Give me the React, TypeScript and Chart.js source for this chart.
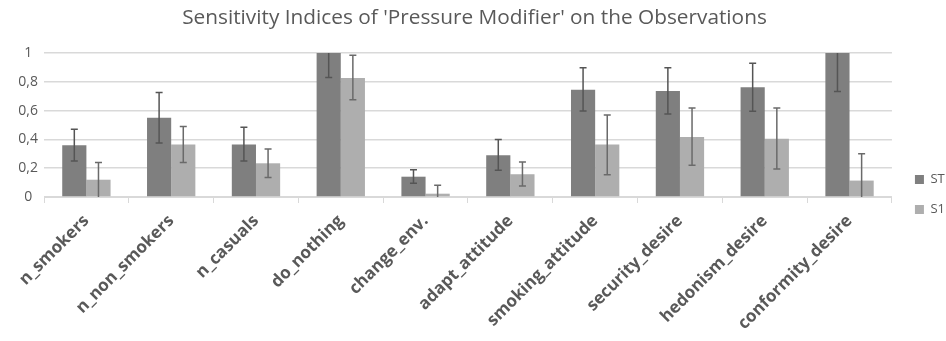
import React, { useEffect, useRef } from 'react';
import { Chart, registerables } from 'chart.js';

Chart.register(...registerables);

const categories = ['n_smokers', 'n_non_smokers', 'n_casuals', 'do_nothing', 'change_env.', 'adapt_attitude', 'smoking_attitude', 'security_desire', 'hedonism_desire', 'conformity_desire'];
const seriesNames = ['ST', 'S1'];
const stValues = [0.36, 0.55, 0.364, 1, 0.141, 0.29, 0.745, 0.736, 0.762, 1];
const stLow = [0.25, 0.375, 0.25, 0.83, 0.095, 0.185, 0.597, 0.576, 0.595, 0.732];
const stHigh = [0.47, 0.725, 0.484, 1.17, 0.19, 0.4, 0.898, 0.898, 0.928, 1.27];
const s1Values = [0.12, 0.364, 0.234, 0.826, 0.023, 0.158, 0.364, 0.417, 0.405, 0.114];
const s1Low = [-0.01, 0.24, 0.135, 0.676, -0.035, 0.076, 0.155, 0.22, 0.194, -0.07];
const s1High = [0.24, 0.49, 0.333, 0.984, 0.081, 0.243, 0.57, 0.618, 0.618, 0.3];
const yTicks = [0, 0.2, 0.4, 0.6, 0.8, 1];

const FONT = "'Open Sans', 'DejaVu Sans', sans-serif";
const TEXT = '#595959';

const errorSets = [
  { low: stLow, high: stHigh, color: '#555555' },
  { low: s1Low, high: s1High, color: '#6a6a6a' },
];

const errorBarPlugin = {
  id: 'errorBars',
  afterDatasetsDraw(chart: any) {
    const { ctx, chartArea, scales } = chart;
    const y = scales.y;
    ctx.save();
    ctx.beginPath();
    ctx.rect(chartArea.left, chartArea.top, chartArea.right - chartArea.left, chartArea.bottom - chartArea.top);
    ctx.clip();
    errorSets.forEach((set, i) => {
      const meta = chart.getDatasetMeta(i);
      meta.data.forEach((bar: any, j: number) => {
        const x = bar.x;
        const yl = y.getPixelForValue(set.low[j]);
        const yh = y.getPixelForValue(set.high[j]);
        ctx.strokeStyle = set.color;
        ctx.lineWidth = 1.5;
        ctx.beginPath();
        ctx.moveTo(x, yl);
        ctx.lineTo(x, yh);
        ctx.moveTo(x - 3.5, yl);
        ctx.lineTo(x + 3.5, yl);
        ctx.moveTo(x - 3.5, yh);
        ctx.lineTo(x + 3.5, yh);
        ctx.stroke();
      });
    });
    ctx.restore();
  },
};

const legendShiftPlugin = {
  id: 'legendShift',
  afterLayout(chart: any) {
    const lg = chart.legend;
    if (!lg) return;
    lg.left += 6;
    lg.right += 6;
    lg.top += 24;
    lg.bottom += 24;
  },
};

export default function App() {
  const ref = useRef<HTMLCanvasElement>(null);
  useEffect(() => {
    if (!ref.current) return;
    const chart = new Chart(ref.current, {
      type: 'bar',
      data: {
        labels: categories,
        datasets: [
          { label: seriesNames[0], data: stValues, backgroundColor: '#7f7f7f', borderWidth: 0 },
          { label: seriesNames[1], data: s1Values, backgroundColor: '#aeaeae', borderWidth: 0 },
        ],
      },
      options: {
        responsive: false,
        animation: false,
        devicePixelRatio: 1,
        layout: { padding: { left: 0, right: -3, top: 0, bottom: 0 } },
        datasets: { bar: { barPercentage: 1, categoryPercentage: 0.57 } },
        plugins: {
          title: {
            display: true,
            text: "Sensitivity Indices of 'Pressure Modifier' on the Observations",
            color: TEXT,
            font: { family: FONT, size: 20.8, weight: 'normal' },
            padding: { top: 6, bottom: 22 },
          },
          legend: {
            position: 'right',
            labels: {
              boxWidth: 9,
              boxHeight: 9,
              color: TEXT,
              font: { family: FONT, size: 13 },
              padding: 17,
            },
          },
          tooltip: { enabled: false },
        },
        scales: {
          x: {
            grid: { offset: true, drawOnChartArea: false, drawTicks: true, tickLength: 6, color: '#d9d9d9' },
            border: { color: '#d9d9d9' },
            ticks: {
              autoSkip: false,
              minRotation: 45,
              maxRotation: 45,
              color: TEXT,
              font: { family: FONT, size: 17, weight: 'bold' },
              padding: 8,
            },
            afterFit: (s: any) => { s.height = 144; },
          },
          y: {
            min: 0,
            max: 1,
            afterBuildTicks: (s: any) => { s.ticks = yTicks.map((v) => ({ value: v })); },
            ticks: {
              color: TEXT,
              font: { family: FONT, size: 14 },
              padding: 6,
              crossAlign: 'center',
              callback: (v: any) => String(Math.round(Number(v) * 10) / 10).replace('.', ','),
            },
            grid: { color: '#d9d9d9', drawTicks: false, lineWidth: 1.5 },
            border: { display: false },
            afterFit: (s: any) => { s.width = 44; },
          },
        },
      },
      plugins: [errorBarPlugin, legendShiftPlugin],
    });
    return () => chart.destroy();
  }, []);
  return (
    <div style={{ position: 'absolute', left: 0, top: 0, width: 946, height: 341, background: '#fff' }}>
      <canvas ref={ref} width={946} height={341} />
    </div>
  );
}
